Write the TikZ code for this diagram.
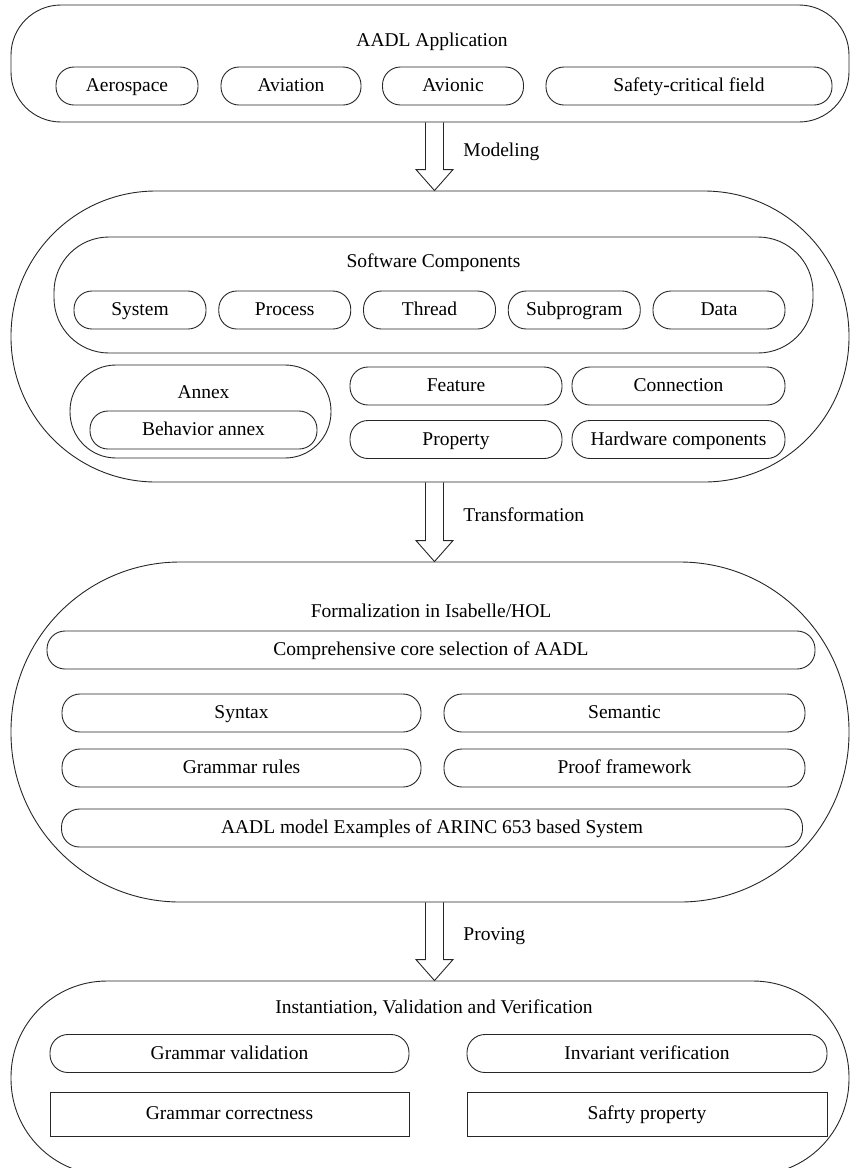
\documentclass[tikz,border=0pt]{standalone}
\usepackage{fontspec}
\setmainfont{Liberation Serif}
\usetikzlibrary{calc}

\begin{document}
\begin{tikzpicture}[x=1pt, y=-1pt, line width=0.9pt,
    font=\fontsize{19.5}{23}\selectfont,
    outer/.style={draw=black!85, rounded corners=#1, minimum width=838pt, inner sep=0pt},
    group/.style={draw=black!85, rounded corners=#1, inner sep=0pt},
    pill/.style={draw=black!85, rounded corners=18pt, minimum height=38pt, inner sep=0pt,
        text height=14pt, text depth=3pt},
    flat/.style={draw=black!85, minimum height=44pt, inner sep=0pt,
        text height=14pt, text depth=3pt},
    lbl/.style={inner sep=0pt, text height=14pt, text depth=3pt}]

    \useasboundingbox (0,0) rectangle (850,1168);
    \clip (0,0) rectangle (850,1168);

    % --- AADL application ---
    \node [outer=50pt, minimum height=117pt] (app) at (430,63.5) {};
    \node [lbl] (app-t) at (432,41) {AADL Application};
    \node [pill, minimum width=142pt] (aero) at (127,86) {Aerospace};
    \node [pill, minimum width=140pt] (avia) at (291,86) {Aviation};
    \node [pill, minimum width=141pt] (avio) at (453,86) {Avionic};
    \node [pill, minimum width=286pt] (safe) at (689,86) {Safety-critical field};

    % --- AADL model ---
    \node [outer=145pt, minimum height=291pt] (model) at (430,336.5) {};
    \node [group=55pt, minimum width=759pt, minimum height=116pt] (sw) at (433.5,295) {};
    \node [lbl] (sw-t) at (433.5,262) {Software Components};
    \foreach \n/\word [count=\i from 0] in {sys/System, proc/Process, thr/Thread, sub/Subprogram, dat/Data}
        \node [pill, minimum width=132pt] (\n) at (140+144.75*\i,310) {\word};

    \node [group=46pt, minimum width=261pt, minimum height=93pt] (annex) at (200.5,411.5) {};
    \node [lbl] (annex-t) at (203.5,393) {Annex};
    \node [pill, minimum width=227pt] (behav) at (203.5,430) {Behavior annex};
    \node [pill, minimum width=212pt] (feat) at (456,386) {Feature};
    \node [pill, minimum width=213pt] (conn) at (678.5,386) {Connection};
    \node [pill, minimum width=212pt] (prop) at (456,439.5) {Property};
    \node [pill, minimum width=213pt] (hw) at (678.5,439.5) {Hardware components};

    % --- Isabelle/HOL ---
    \node [outer=169pt, minimum height=340pt] (form) at (430,732) {};
    \node [lbl] (form-t) at (431,612) {Formalization in Isabelle/HOL};
    \node [pill, minimum width=768pt] (core) at (431,650) {Comprehensive core selection of AADL};
    \node [pill, minimum width=359pt] (syn) at (241.5,713) {Syntax};
    \node [pill, minimum width=361pt] (sem) at (624.5,713) {Semantic};
    \node [pill, minimum width=359pt] (gram) at (241.5,768) {Grammar rules};
    \node [pill, minimum width=361pt] (proof) at (624.5,768) {Proof framework};
    \node [pill, minimum width=741pt] (arinc) at (432,828) {AADL model Examples of ARINC 653 based System};

    % --- verification ---
    \node [outer=96pt, minimum height=194pt] (inst) at (430,1078) {};
    \node [lbl] (inst-t) at (434,1008) {Instantiation, Validation and Verification};
    \node [pill, minimum width=359pt] (gval) at (229.5,1053.5) {Grammar validation};
    \node [pill, minimum width=360pt] (inv) at (647,1053.5) {Invariant verification};
    \node [flat, minimum width=359pt] (gcor) at (229.5,1114) {Grammar correctness};
    \node [flat, minimum width=360pt] (safp) at (647,1114) {Safrty property};

    % --- hollow arrows between the stages ---
    \foreach \src/\dst/\word in {app/model/Modeling, model/form/Transformation, form/inst/Proving} {
        \draw [draw=black!85] let \p1=($(\src.south)+(4.5,0)$), \p2=(\dst.north) in
            (\x1-9pt,\y1) -- (\x1-9pt,\y2+21pt) -- (\x1-18.5pt,\y2+21pt) -- (\x1,\y2)
            -- (\x1+18.5pt,\y2+21pt) -- (\x1+9pt,\y2+21pt) -- (\x1+9pt,\y1);
        \node [lbl, anchor=west] (\src-lbl) at ($(\src.south)!0.42!(\dst.north)+(33,0)$) {\word};
    }

\end{tikzpicture}
\end{document}
